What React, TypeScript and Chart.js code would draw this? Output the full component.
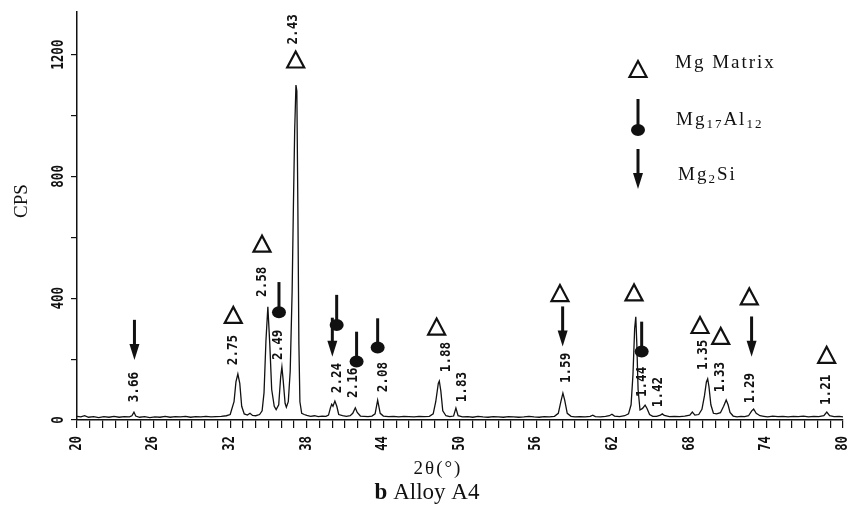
import { useEffect, useRef } from 'react';
import { Chart, registerables } from 'chart.js';

Chart.register(...registerables);

// XRD pattern: [2θ (°), intensity (CPS)]
const spectrum: [number, number][] = [
  [20.0, 12], [20.3, 10], [20.6, 14], [20.9, 9], [21.3, 11], [21.7, 8], [22.1, 11], [22.5, 9],
  [22.9, 12], [23.3, 9], [23.7, 11], [24.1, 10], [24.3, 14], [24.46, 26], [24.6, 13], [24.9, 9],
  [25.3, 11], [25.7, 8], [26.1, 10], [26.5, 9], [26.9, 12], [27.3, 9], [27.7, 11], [28.1, 10],
  [28.5, 12], [28.9, 9], [29.3, 11], [29.7, 10], [30.1, 12], [30.5, 10], [30.9, 11], [31.3, 12],
  [31.7, 14], [32.0, 18], [32.3, 60], [32.45, 125], [32.6, 151], [32.75, 120], [32.9, 45], [33.1, 20],
  [33.35, 16], [33.55, 22], [33.75, 15], [34.0, 14], [34.3, 18], [34.5, 30], [34.65, 90], [34.8, 260],
  [34.95, 372], [35.1, 250], [35.25, 100], [35.45, 45], [35.6, 34], [35.8, 50], [35.95, 140], [36.05, 174],
  [36.15, 130], [36.3, 55], [36.4, 42], [36.55, 60], [36.7, 160], [36.85, 420], [36.95, 700], [37.05, 950],
  [37.15, 1100], [37.22, 1080], [37.3, 700], [37.38, 250], [37.46, 60], [37.6, 22], [37.8, 18], [38.0, 15],
  [38.3, 12], [38.6, 14], [38.9, 11], [39.2, 13], [39.5, 12], [39.7, 16], [39.85, 40], [39.95, 52],
  [40.05, 45], [40.2, 62], [40.35, 45], [40.5, 18], [40.8, 14], [41.1, 12], [41.4, 14], [41.6, 22],
  [41.8, 40], [41.95, 25], [42.2, 13], [42.5, 12], [42.8, 11], [43.1, 13], [43.35, 20], [43.55, 65],
  [43.75, 22], [44.0, 13], [44.4, 11], [44.8, 12], [45.2, 10], [45.6, 12], [46.0, 11], [46.4, 10],
  [46.8, 12], [47.2, 11], [47.6, 12], [47.9, 20], [48.1, 60], [48.3, 120], [48.38, 128], [48.5, 95],
  [48.65, 30], [48.9, 14], [49.2, 11], [49.5, 13], [49.68, 39], [49.85, 14], [50.2, 10], [50.6, 11],
  [51.0, 9], [51.4, 12], [51.8, 10], [52.2, 9], [52.6, 11], [53.0, 10], [53.4, 9], [53.8, 11],
  [54.2, 10], [54.6, 9], [55.0, 10], [55.4, 12], [55.8, 10], [56.2, 9], [56.6, 11], [57.0, 10],
  [57.4, 12], [57.7, 22], [57.9, 60], [58.06, 88], [58.2, 65], [58.4, 22], [58.7, 12], [59.0, 10],
  [59.4, 11], [59.8, 10], [60.2, 12], [60.4, 16], [60.6, 11], [61.0, 10], [61.4, 12], [61.7, 14],
  [61.9, 19], [62.1, 13], [62.5, 11], [62.9, 14], [63.2, 20], [63.4, 50], [63.55, 150], [63.68, 300],
  [63.77, 339], [63.85, 250], [63.95, 100], [64.1, 33], [64.3, 38], [64.5, 49], [64.65, 38], [64.85, 18],
  [65.1, 12], [65.4, 12], [65.7, 16], [65.85, 20], [66.0, 15], [66.4, 11], [66.8, 12], [67.2, 11],
  [67.6, 13], [68.0, 16], [68.2, 26], [68.4, 16], [68.7, 18], [68.95, 35], [69.15, 80], [69.3, 125],
  [69.4, 135], [69.5, 110], [69.65, 50], [69.85, 22], [70.1, 20], [70.4, 24], [70.65, 45], [70.85, 66],
  [71.0, 50], [71.15, 25], [71.4, 13], [71.7, 10], [72.0, 12], [72.3, 11], [72.6, 14], [72.85, 30],
  [73.0, 36], [73.2, 22], [73.5, 14], [73.8, 12], [74.1, 10], [74.5, 13], [74.9, 11], [75.3, 12],
  [75.7, 10], [76.1, 12], [76.5, 11], [76.9, 13], [77.3, 10], [77.7, 12], [78.1, 11], [78.5, 14],
  [78.73, 26], [78.95, 14], [79.3, 11], [79.7, 12], [80.0, 10],
];

const xTickLabels = [20, 26, 32, 38, 44, 50, 56, 62, 68, 74, 80];
const yTickLabels = [0, 400, 800, 1200];

// Mg matrix triangles: [2θ, CPS]
const matrixMarks: [number, number][] = [
  [32.24, 345], [34.49, 579], [37.13, 1184], [48.17, 307], [57.83, 417],
  [63.63, 419], [68.8, 312], [70.42, 276], [72.66, 406], [78.72, 214],
];
// Mg2Si arrows: [2θ, top CPS, tip CPS]
const mg2siArrows: [number, number, number][] = [
  [24.5, 329, 197], [40.0, 336, 208], [58.04, 373, 241], [72.84, 340, 208],
];
// Mg17Al12 pins: [2θ, top CPS, dot CPS]
const mg17Pins: [number, number, number][] = [
  [35.82, 453, 354], [40.34, 411, 312], [41.9, 290, 192], [43.55, 334, 238], [64.23, 323, 225],
];
// d-spacing labels: [text, 2θ, CPS]
const dLabels: [string, number, number][] = [
  ['3.66', 24.46, 108], ['2.75', 32.21, 230], ['2.58', 34.48, 454], ['2.49', 35.74, 247],
  ['2.43', 36.91, 1283], ['2.24', 40.36, 138], ['2.16', 41.61, 122], ['2.08', 43.96, 141],
  ['1.88', 48.9, 207], ['1.83', 50.15, 108], ['1.59', 58.37, 171], ['1.44', 64.32, 125],
  ['1.42', 65.5, 92], ['1.35', 69.1, 214], ['1.33', 70.43, 141], ['1.29', 72.78, 105],
  ['1.21', 78.73, 99],
];

const INK = '#111';
const MONO = 'bold 15px "DejaVu Sans Mono"';
const SERIF = '"Liberation Serif", "Times New Roman", serif';

function drawTriangle(ctx: CanvasRenderingContext2D, cx: number, cy: number) {
  ctx.beginPath();
  ctx.moveTo(cx, cy - 8);
  ctx.lineTo(cx - 8.5, cy + 8);
  ctx.lineTo(cx + 8.5, cy + 8);
  ctx.closePath();
  ctx.lineWidth = 2.2;
  ctx.lineJoin = 'miter';
  ctx.stroke();
}

function drawArrow(ctx: CanvasRenderingContext2D, cx: number, top: number, tip: number) {
  const head = 16;
  ctx.lineWidth = 3;
  ctx.beginPath();
  ctx.moveTo(cx, top);
  ctx.lineTo(cx, tip - head + 2);
  ctx.stroke();
  ctx.beginPath();
  ctx.moveTo(cx - 5, tip - head);
  ctx.lineTo(cx + 5, tip - head);
  ctx.lineTo(cx, tip);
  ctx.closePath();
  ctx.fill();
}

function drawPin(ctx: CanvasRenderingContext2D, cx: number, top: number, dot: number) {
  ctx.lineWidth = 3;
  ctx.beginPath();
  ctx.moveTo(cx, top);
  ctx.lineTo(cx, dot);
  ctx.stroke();
  ctx.beginPath();
  ctx.ellipse(cx, dot, 7, 6, 0, 0, Math.PI * 2);
  ctx.fill();
}

function rotText(ctx: CanvasRenderingContext2D, t: string, cx: number, cy: number, align: CanvasTextAlign, sx: number) {
  ctx.save();
  ctx.translate(cx, cy);
  ctx.rotate(-Math.PI / 2);
  ctx.scale(sx, 1);
  ctx.textAlign = align;
  ctx.textBaseline = 'middle';
  ctx.fillText(t, 0, 0);
  ctx.restore();
}

const overlay = {
  id: 'overlay',
  afterDraw(chart: any) {
    const { ctx, scales, chartArea } = chart;
    const xs = scales.x;
    const ys = scales.y;
    const px = (v: number) => xs.getPixelForValue(v);
    const py = (v: number) => ys.getPixelForValue(v);
    ctx.save();
    ctx.fillStyle = INK;
    ctx.strokeStyle = INK;

    // tick labels
    ctx.font = MONO;
    xTickLabels.forEach((v) => rotText(ctx, String(v), px(v), chartArea.bottom + 16, 'right', 0.82));
    yTickLabels.forEach((v) => rotText(ctx, String(v), chartArea.left - 18, py(v), 'center', 0.84));

    // d-spacing labels
    ctx.font = 'bold 14px "DejaVu Sans Mono"';
    dLabels.forEach(([t, a, b]) => rotText(ctx, t, px(a), py(b), 'center', 0.9));

    // markers
    matrixMarks.forEach(([a, b]) => drawTriangle(ctx, px(a), py(b)));
    mg2siArrows.forEach(([a, t, tip]) => drawArrow(ctx, px(a), py(t), py(tip)));
    mg17Pins.forEach(([a, t, d]) => drawPin(ctx, px(a), py(t), py(d)));

    // axis titles
    ctx.font = `19px ${SERIF}`;
    rotText(ctx, 'CPS', 22, 201, 'center', 1);
    ctx.textAlign = 'center';
    ctx.textBaseline = 'middle';
    (ctx as any).letterSpacing = '2px';
    ctx.fillText('2θ(°)', 438, 469);
    (ctx as any).letterSpacing = '0px';

    // caption
    ctx.textBaseline = 'alphabetic';
    ctx.textAlign = 'left';
    ctx.font = `bold 23px ${SERIF}`;
    const bW = ctx.measureText('b ').width;
    ctx.font = `23px ${SERIF}`;
    const restW = ctx.measureText('Alloy A4').width;
    const startX = 427 - (bW + restW) / 2;
    ctx.font = `bold 23px ${SERIF}`;
    ctx.fillText('b ', startX, 499);
    ctx.font = `23px ${SERIF}`;
    ctx.fillText('Alloy A4', startX + bW, 499);

    // legend
    drawTriangle(ctx, 638, 69);
    drawPin(ctx, 638, 99, 130);
    drawArrow(ctx, 638, 149, 189);
    ctx.textAlign = 'left';
    ctx.textBaseline = 'alphabetic';
    (ctx as any).letterSpacing = '2px';
    ctx.font = `19px ${SERIF}`;
    ctx.fillText('Mg Matrix', 675, 68);
    let x0 = 676;
    const seg = (t: string, sub: boolean) => {
      ctx.font = sub ? `13px ${SERIF}` : `19px ${SERIF}`;
      ctx.fillText(t, x0, sub ? 128 : 125);
      x0 += ctx.measureText(t).width;
    };
    seg('Mg', false); seg('17', true); seg('Al', false); seg('12', true);
    x0 = 678;
    const seg2 = (t: string, sub: boolean) => {
      ctx.font = sub ? `13px ${SERIF}` : `19px ${SERIF}`;
      ctx.fillText(t, x0, sub ? 183 : 180);
      x0 += ctx.measureText(t).width;
    };
    seg2('Mg', false); seg2('2', true); seg2('Si', false);
    (ctx as any).letterSpacing = '0px';
    ctx.restore();
  },
};

export default function App() {
  const ref = useRef<HTMLCanvasElement | null>(null);
  useEffect(() => {
    if (!ref.current) return;
    const chart = new Chart(ref.current, {
      type: 'line',
      data: {
        datasets: [
          {
            data: spectrum.map(([a, b]) => ({ x: a, y: b })),
            borderColor: INK,
            borderWidth: 1.3,
            pointRadius: 0,
            tension: 0,
            fill: false,
          },
        ],
      },
      options: {
        animation: false,
        responsive: false,
        layout: { padding: { top: 12, right: 6, left: 0, bottom: 0 } },
        plugins: { legend: { display: false }, tooltip: { enabled: false } },
        scales: {
          x: {
            type: 'linear',
            min: 20,
            max: 80,
            afterFit: (s: any) => { s.height = 94; },
            ticks: { display: false, stepSize: 1, autoSkip: false, includeBounds: false, maxTicksLimit: 100 },
            grid: { drawOnChartArea: false, drawTicks: true, tickLength: 8, color: INK, lineWidth: 1.2 },
            border: { display: true, color: INK, width: 1.5 },
          },
          y: {
            type: 'linear',
            min: 0,
            max: 1340,
            afterFit: (s: any) => { s.width = 77; },
            ticks: { display: false, stepSize: 200, includeBounds: false, maxTicksLimit: 100 },
            grid: { drawOnChartArea: false, drawTicks: true, tickLength: 6, color: INK, lineWidth: 1.2 },
            border: { display: true, color: INK, width: 1.5 },
          },
        },
      },
      plugins: [overlay],
    } as any);
    return () => chart.destroy();
  }, []);
  return (
    <div style={{ position: 'absolute', left: 0, top: 0, width: 849, height: 514, background: '#fff' }}>
      <canvas ref={ref} width={849} height={514} style={{ display: 'block' }} />
    </div>
  );
}
